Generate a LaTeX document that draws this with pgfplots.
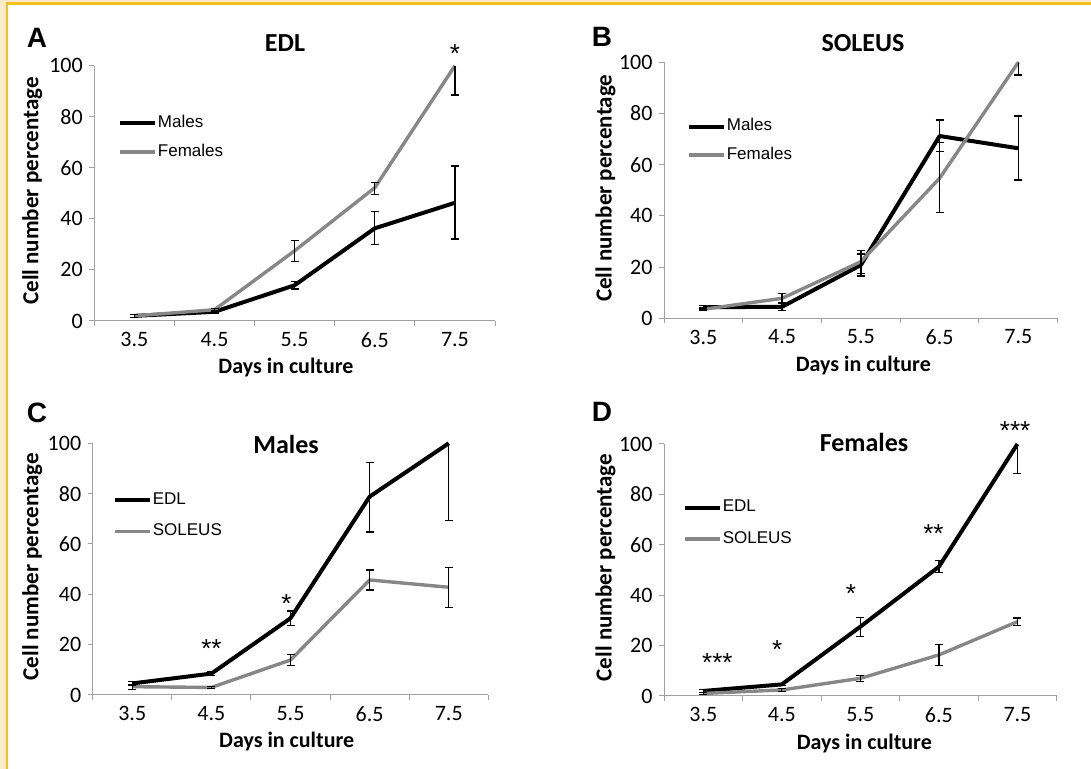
\documentclass[border=0pt]{standalone}
\usepackage{fontspec}
\setmainfont{Carlito}
\newfontfamily\arial{Liberation Sans}
\usepackage{pgfplots}
\pgfplotsset{compat=1.18}
\usepackage{pgfplotstable}

\definecolor{ser}{HTML}{878787}
\definecolor{axg}{HTML}{A0A0A0}
\definecolor{frameor}{HTML}{F5BF1F}
\definecolor{cream}{HTML}{FBEBCB}
\newcommand{\fs}[1]{\fontsize{#1bp}{#1bp}\selectfont}

% ---- data: x index 0..4 = 3.5,4.5,5.5,6.5,7.5 days ----
\pgfplotstableread{
x y ep em
0 2.0 0.5 0.5
1 3.6 0.5 0.5
2 14.0 1.5 1.5
3 36.3 6.5 6.3
4 46.3 14.4 14.2
}\AM
\pgfplotstableread{
x y ep em
0 2.0 0.5 0.5
1 4.4 0.5 0.5
2 27.5 3.9 4.1
3 52.2 2.1 2.6
4 100 0 11.5
}\AF
\pgfplotstableread{
x y ep em
0 4.3 0.8 0.8
1 4.5 1.5 1.5
2 20.8 4.3 4.3
3 71.2 6.3 6.1
4 66.4 12.6 12.4
}\BM
\pgfplotstableread{
x y ep em
0 3.5 0.5 0.5
1 7.8 2.0 2.0
2 22.1 4.5 4.5
3 54.7 14.0 13.5
4 100 0 5.0
}\BF
\pgfplotstableread{
x y ep em
0 4.6 0.8 0.8
1 8.5 0.8 0.8
2 30.5 2.9 2.9
3 78.8 13.6 14.1
4 100 0 30.7
}\CE
\pgfplotstableread{
x y ep em
0 3.3 1.0 1.0
1 3.0 0.4 0.4
2 13.9 2.3 2.3
3 45.7 4.0 4.0
4 42.8 7.8 8.0
}\CS
\pgfplotstableread{
x y ep em
0 2.0 0.5 0.5
1 4.6 0.4 0.4
2 27.5 3.7 3.9
3 51.3 2.5 2.2
4 100 0 11.6
}\DE
\pgfplotstableread{
x y ep em
0 1.0 0.3 0.3
1 2.4 0.5 0.5
2 7.0 1.2 1.2
3 16.3 4.2 4.1
4 29.5 1.5 1.5
}\DS

\pgfplotsset{
  panel/.style={
    scale only axis, clip=false,
    xmin=-0.5, xmax=4.5, ymin=0, ymax=100,
    axis x line=bottom, axis y line=left,
    axis line style={-, draw=axg, line width=1bp},
    xtick={-0.5,0.5,1.5,2.5,3.5,4.5}, xticklabels={,,,,,},
    extra x ticks={0,1,2,3,4}, extra x tick labels={3.5,4.5,5.5,6.5,7.5},
    extra x tick style={major tick length=0pt},
    ytick={0,20,40,60,80,100},
    tick align=outside, major tick length=5bp,
    tick style={draw=axg, line width=1bp},
    ticklabel style={font=\fs{22}},
    xticklabel style={yshift=-8bp},
    yticklabel style={xshift=-3bp},
    /pgf/number format/assume math mode=true,
    legend style={draw=none, fill=none, inner sep=0pt, outer sep=0pt,
      font=\arial\fs{17}, cells={anchor=west},
      nodes={inner sep=1bp, text height=12bp, text depth=3.5bp},
      anchor=west},
    /tikz/every even column/.style={column sep=0pt},
    legend image code/.code={\draw[##1] (0bp,0bp) -- (35bp,0bp);},
  },
  bl/.style={black, line width=4bp, line join=round},
  gr/.style={ser, line width=3.4bp, line join=round},
  eb/.style={draw=none, forget plot, error bars/.cd, y dir=#1, y explicit,
    error bar style={draw=black, line width=1.3bp, solid},
    error mark options={draw=black, rotate=90, mark size=4bp, line width=1.3bp}},
}
\tikzset{star/.style={font=\arial\fs{26}, yshift=-5.5bp, inner sep=0pt}}

\begin{document}
\begin{tikzpicture}[x=1bp,y=1bp]
\useasboundingbox (0,0) rectangle (1091,769);
\fill[cream] (0,0) rectangle (5.7,769);
\fill[cream] (0,767) rectangle (1091,769);
\fill[frameor] (5.7,0) rectangle (7.7,767);
\fill[frameor] (5.7,764) rectangle (1091,767);

% ---------- A ----------
\begin{axis}[panel, at={(94.3bp,448bp)}, anchor=south west, width=400.7bp, height=255.3bp,
  legend style={at={(axis description cs:0.059,0.719)}, /tikz/row sep=11.5bp}]
\addplot[bl] table[x=x,y=y] {\AM};
\addplot[gr] table[x=x,y=y] {\AF};
\addplot[eb=both] table[x=x,y=y,y error plus=ep,y error minus=em] {\AM};
\addplot[eb=both] table[x=x,y=y,y error plus=ep,y error minus=em,
  restrict x to domain=0:3] {\AF};
\addplot[eb=minus] table[x=x,y=y,y error plus=ep,y error minus=em,
  restrict x to domain=4:4] {\AF};
\legend{Males,Females}
\node[star] at (axis cs:4,107) {*};
\end{axis}

% ---------- B ----------
\begin{axis}[panel, at={(664bp,450.7bp)}, anchor=south west, width=393.7bp, height=256bp,
  legend style={at={(axis description cs:0.058,0.693)}, /tikz/row sep=10.8bp}]
\addplot[bl] table[x=x,y=y] {\BM};
\addplot[gr] table[x=x,y=y] {\BF};
\addplot[eb=both] table[x=x,y=y,y error plus=ep,y error minus=em] {\BM};
\addplot[eb=both] table[x=x,y=y,y error plus=ep,y error minus=em,
  restrict x to domain=0:3] {\BF};
\addplot[eb=minus] table[x=x,y=y,y error plus=ep,y error minus=em,
  restrict x to domain=4:4] {\BF};
\legend{Males,Females}
\end{axis}

% ---------- C ----------
\begin{axis}[panel, at={(92.7bp,74bp)}, anchor=south west, width=395.6bp, height=251.7bp,
  legend style={at={(axis description cs:0.051,0.712)}, /tikz/row sep=14.2bp}]
\addplot[bl] table[x=x,y=y] {\CE};
\addplot[gr] table[x=x,y=y] {\CS};
\addplot[eb=both] table[x=x,y=y,y error plus=ep,y error minus=em,
  restrict x to domain=0:3] {\CE};
\addplot[eb=minus] table[x=x,y=y,y error plus=ep,y error minus=em,
  restrict x to domain=4:4] {\CE};
\addplot[eb=both] table[x=x,y=y,y error plus=ep,y error minus=em] {\CS};
\legend{EDL,SOLEUS}
\node[star] at (axis cs:1,20.5) {**};
\node[star] at (axis cs:1.95,38.4) {*};
\end{axis}

% ---------- D ----------
\begin{axis}[panel, at={(664bp,73bp)}, anchor=south west, width=392.7bp, height=252bp,
  legend style={at={(axis description cs:0.048,0.685)}, /tikz/row sep=13.8bp}]
\addplot[bl] table[x=x,y=y] {\DE};
\addplot[gr] table[x=x,y=y] {\DS};
\addplot[eb=both] table[x=x,y=y,y error plus=ep,y error minus=em,
  restrict x to domain=0:3] {\DE};
\addplot[eb=minus] table[x=x,y=y,y error plus=ep,y error minus=em,
  restrict x to domain=4:4] {\DE};
\addplot[eb=both] table[x=x,y=y,y error plus=ep,y error minus=em] {\DS};
\legend{EDL,SOLEUS}
\node[star] at (axis cs:0.18,15.3) {***};
\node[star] at (axis cs:0.94,20.5) {*};
\node[star] at (axis cs:1.88,43) {*};
\node[star] at (axis cs:2.93,66.5) {**};
\node[star] at (axis cs:3.97,107.6) {***};
\end{axis}

% ---------- panel letters, titles, axis labels ----------
\node[font=\arial\bfseries\fs{28}] at (37,731) {A};
\node[font=\arial\bfseries\fs{28}] at (602,732) {B};
\node[font=\arial\bfseries\fs{28}] at (37,356) {C};
\node[font=\arial\bfseries\fs{28}] at (602,357) {D};

\node[font=\bfseries\fs{26}] at (285,726) {EDL};
\node[font=\bfseries\fs{26}] at (863,726) {SOLEUS};
\node[font=\bfseries\fs{26}] at (286,325) {Males};
\node[font=\bfseries\fs{26}] at (864,327) {Females};

\node[font=\bfseries\fs{22}, anchor=base] at (286,395.7) {Days in culture};
\node[font=\bfseries\fs{22}, anchor=base] at (863.3,397.3) {Days in culture};
\node[font=\bfseries\fs{22}, anchor=base] at (286.7,21.3) {Days in culture};
\node[font=\bfseries\fs{22}, anchor=base] at (864.3,19) {Days in culture};

\node[font=\bfseries\fs{23}, anchor=base, rotate=90] at (38.3,578) {Cell number percentage};
\node[font=\bfseries\fs{23}, anchor=base, rotate=90] at (611.7,580.7) {Cell number percentage};
\node[font=\bfseries\fs{23}, anchor=base, rotate=90] at (38.3,202.3) {Cell number percentage};
\node[font=\bfseries\fs{23}, anchor=base, rotate=90] at (611.7,201.5) {Cell number percentage};
\end{tikzpicture}
\end{document}
